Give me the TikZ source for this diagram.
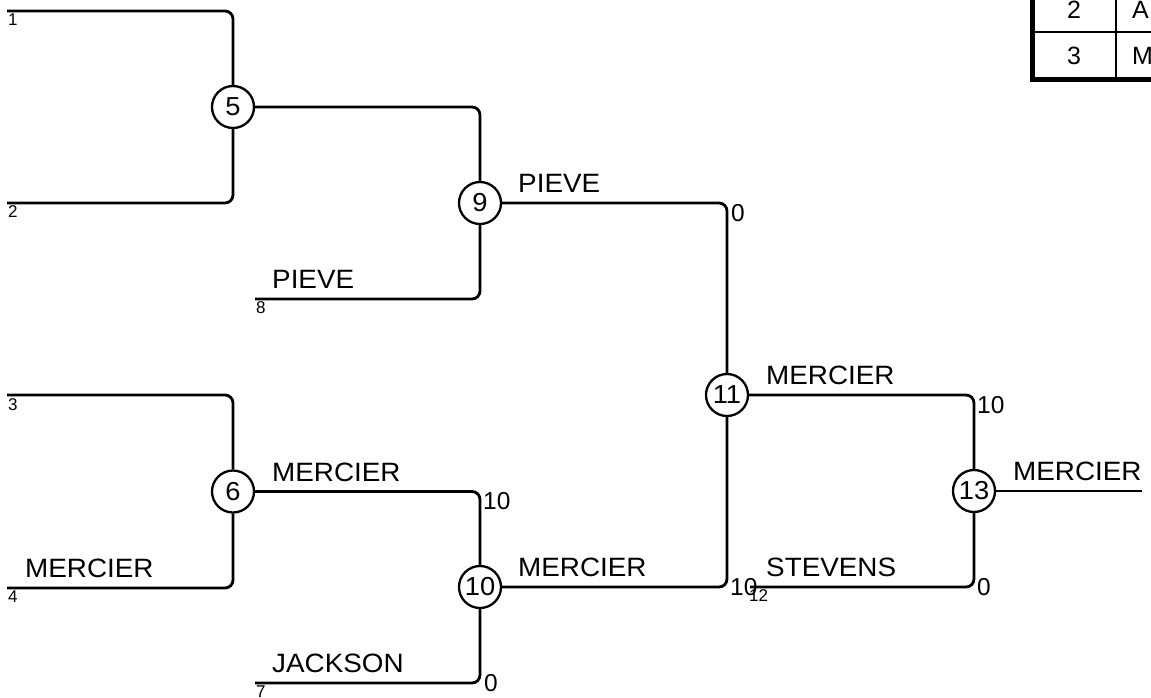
\documentclass[tikz,border=0pt]{standalone}
\usepackage{fontspec}
\setmainfont{Liberation Sans}
\newfontfamily\labfont[FakeStretch=1.05]{Liberation Sans}
\begin{document}
\begin{tikzpicture}[x=1pt,y=-1pt,
  wire/.style={line width=2.8pt,rounded corners=8pt},
  circ/.style={circle,draw,line width=2.3pt,minimum size=42pt,inner sep=0pt,fill=white,
    font=\labfont\fontsize{26}{28}\selectfont},
  namelab/.style={anchor=base west,inner sep=0pt,font=\labfont\fontsize{26.5}{28}\selectfont},
  score/.style={anchor=west,inner sep=0pt,font=\fontsize{24.5}{26}\selectfont},
  leaf/.style={anchor=north west,inner sep=0pt,font=\fontsize{17}{18}\selectfont},
  cell/.style={inner sep=0pt,font=\fontsize{25}{27}\selectfont}]
\useasboundingbox (0,0) rectangle (1151,697);

% table (clipped at the picture border)
\begin{scope}
\clip (0,0) rectangle (1151,697);
\draw[line width=2.3pt] (1116,-20) -- (1116,79);
\draw[line width=2.3pt] (1032,32) -- (1160,32);
\draw[line width=5pt] (1032,-20) -- (1032,79) -- (1160,79);
\node[cell] (c2) at (1074,9.5) {2};
\node[cell] (c3) at (1074,56) {3};
\node[cell,anchor=west] (c2b) at (1132,9.5) {A};
\node[cell,anchor=west] (c3b) at (1132,56) {M};
\end{scope}

% leaf coordinates
\coordinate (l1) at (7,11);
\coordinate (l2) at (7,203);
\coordinate (l3) at (7,395);
\coordinate (l4) at (7,588);
\coordinate (l8) at (255,299);
\coordinate (l7) at (255,683);
\coordinate (l12) at (750,587);
\coordinate (fin) at (1142,491);

% match circles
\node[circ] (n5) at (233,107) {5};
\node[circ] (n6) at (233,491.5) {6};
\node[circ] (n9) at (480,203) {9};
\node[circ] (n10) at (480,587) {10};
\node[circ] (n11) at (727,395) {11};
\node[circ] (n13) at (974,491) {13};

% connectors
\draw[wire] (l1) -| (n5);
\draw[wire] (l2) -| (n5);
\draw[wire] (l3) -| (n6);
\draw[wire] (l4) -| (n6);
\draw[wire] (n5) -| (n9);
\draw[wire] (l8) -| (n9);
\draw[wire] (n6) -| (n10);
\draw[wire] (l7) -| (n10);
\draw[wire] (n9) -| (n11);
\draw[wire] (n10) -| (n11);
\draw[wire] (n11) -| (n13);
\draw[wire] (l12) -| (n13);
\draw[wire] (n13) -- (fin);

% leaf numbers
\node[leaf] (k1) at (8,13.5) {1};
\node[leaf] (k2) at (8,205.5) {2};
\node[leaf] (k3) at (8,398) {3};
\node[leaf] (k4) at (8,590.5) {4};
\node[leaf] (k8) at (256,301.5) {8};
\node[leaf] (k7) at (256,685.5) {7};
\node[leaf] (k12) at (749,589.5) {12};

% names
\node[namelab] (t9) at (518,192) {PIEVE};
\node[namelab] (t8) at (272,288) {PIEVE};
\node[namelab] (t6) at (272,481) {MERCIER};
\node[namelab] (t4) at (25,577) {MERCIER};
\node[namelab] (t7) at (272,672) {JACKSON};
\node[namelab] (t10) at (518,576) {MERCIER};
\node[namelab] (t11) at (766,384) {MERCIER};
\node[namelab] (t12) at (766,576) {STEVENS};
\node[namelab] (t13) at (1013,480) {MERCIER};

% scores
\node[score] (s9) at (731,213) {0};
\node[score] (s6) at (483,501) {10};
\node[score] (s7) at (484,683) {0};
\node[score] (s10) at (730,587) {10};
\node[score] (s11) at (977,405) {10};
\node[score] (s12) at (977,587) {0};
\end{tikzpicture}
\end{document}
